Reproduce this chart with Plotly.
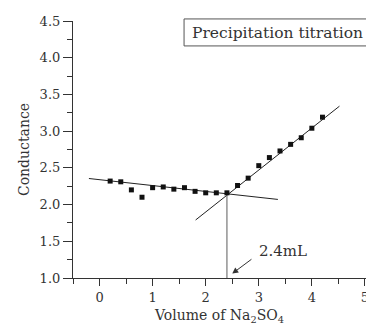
import plotly.graph_objects as go

""" Data read off the chart """
volume = [0.2, 0.4, 0.6, 0.8, 1.0, 1.2, 1.4, 1.6, 1.8, 2.0, 2.2,
          2.4, 2.6, 2.8, 3.0, 3.2, 3.4, 3.6, 3.8, 4.0, 4.2]
conductance = [2.32, 2.31, 2.20, 2.10, 2.23, 2.24, 2.21, 2.23, 2.18, 2.16, 2.16,
               2.16, 2.26, 2.36, 2.53, 2.64, 2.73, 2.82, 2.91, 3.04, 3.19]

# fitted straight lines (end points)
fit1_x = [-0.2, 3.36]
fit1_y = [2.355, 2.07]
fit2_x = [1.81, 4.52]
fit2_y = [1.79, 3.34]

# equivalence point
endpoint_x = [2.4, 2.4]
endpoint_y = [1.0, 2.15]

FONT = "DejaVu Serif"
INK = "#333333"

fig = go.Figure()
fig.add_trace(go.Scatter(x=fit1_x, y=fit1_y, mode="lines",
                         line=dict(color="#222222", width=1), showlegend=False))
fig.add_trace(go.Scatter(x=fit2_x, y=fit2_y, mode="lines",
                         line=dict(color="#222222", width=1), showlegend=False))
fig.add_trace(go.Scatter(x=endpoint_x, y=endpoint_y, mode="lines",
                         line=dict(color="#777777", width=1.2), showlegend=False))
fig.add_trace(go.Scatter(x=volume, y=conductance, mode="markers",
                         marker=dict(symbol="square", size=5, color="#111111"),
                         showlegend=False))

# arrow and label for the end point
fig.add_annotation(x=2.5, y=1.06, ax=2.89, ay=1.27, xref="x", yref="y",
                   axref="x", ayref="y", text="", showarrow=True,
                   arrowhead=2, arrowsize=1.2, arrowwidth=1, arrowcolor=INK)
fig.add_annotation(x=3.45, y=1.37, xref="x", yref="y", text="2.4mL",
                   showarrow=False, font=dict(family=FONT, size=15, color=INK))

# title box (runs off the right edge like in the original)
fig.add_shape(type="rect", xref="paper", yref="paper",
              x0=0.379, x1=1.08, y0=0.903, y1=1.008,
              line=dict(color="#555555", width=1), fillcolor="white")
fig.add_annotation(x=0.4, y=0.955, xref="paper", yref="paper",
                   xanchor="left", yanchor="middle",
                   text="Precipitation titration", showarrow=False,
                   font=dict(family=FONT, size=15.5, color=INK))

axis_common = dict(
    showline=True, linecolor=INK, linewidth=1.2, showgrid=False, zeroline=False,
    ticks="outside", tickcolor=INK, tickwidth=1, automargin=False,
    tickfont=dict(family=FONT, size=13, color=INK),
)
fig.update_xaxes(range=[-0.5, 5.02], dtick=1, tick0=0, ticklen=7,
                 ticklabeloverflow="allow",
                 minor=dict(dtick=0.5, tick0=0, ticks="outside", ticklen=5, tickcolor=INK),
                 title=dict(text="Volume of Na<sub>2</sub>SO<sub>4</sub>",
                            font=dict(family=FONT, size=14, color=INK), standoff=6),
                 **axis_common)
fig.update_yaxes(range=[1.0, 4.5], dtick=0.5, tick0=1.0, tickformat=".1f", ticklen=9,
                 minor=dict(dtick=0.25, tick0=1.0, ticks="outside", ticklen=5, tickcolor=INK),
                 title=dict(text="Conductance",
                            font=dict(family=FONT, size=14, color=INK), standoff=6),
                 **axis_common)

fig.update_layout(
    width=366, height=326,
    margin=dict(l=73, r=0, t=21, b=48),
    plot_bgcolor="white", paper_bgcolor="white",
)
# drop the default page margin so the figure fills the window
fig.write_html(
    "out.html",
    config={"displayModeBar": False},
    post_script="document.body.style.margin='0';"
                "document.body.style.overflow='hidden';"
                "document.documentElement.style.overflow='hidden';",
)
